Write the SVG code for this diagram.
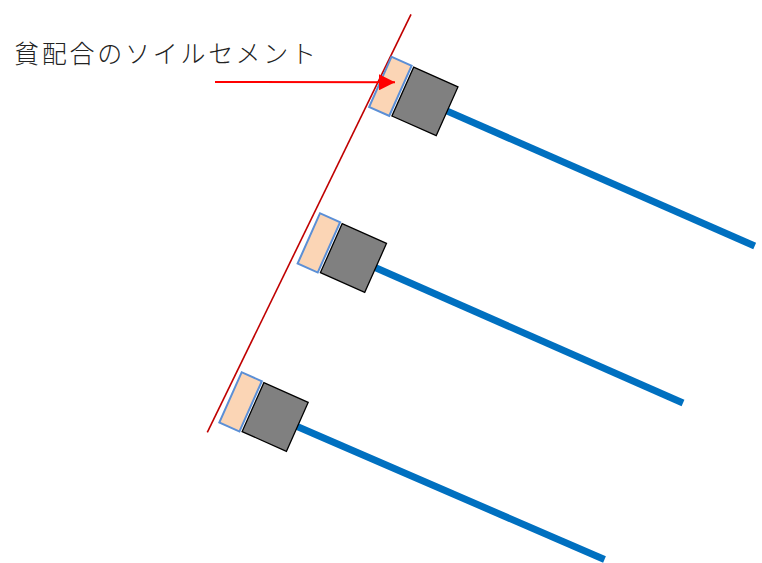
<svg xmlns="http://www.w3.org/2000/svg" width="762" height="563" viewBox="0 0 762 563">
<style>
.rod{stroke:#0070C0;stroke-width:7;fill:none;stroke-linecap:butt}
.pad{fill:#FBD5B5;stroke:#5B8FD6;stroke-width:2}
.head{fill:#808080;stroke:#000;stroke-width:1.3}
.wall{stroke:#C00000;stroke-width:1.6;fill:none}
.lbl{font-family:"Noto Sans CJK JP","Noto Sans CJK SC",sans-serif;font-size:25px;font-weight:300;fill:#222}
</style>
<defs>
<marker id="ah" markerUnits="userSpaceOnUse" markerWidth="18" markerHeight="16" refX="16" refY="8" orient="auto">
<polygon points="0,0 16,8 0,16" fill="#FF0000"/>
</marker>
</defs>
<rect width="762" height="563" fill="#fff"/>
<g id="connectors">
<line class="wall" x1="207.3" y1="432.3" x2="411" y2="14.3"/>
<line class="rod" x1="425" y1="101.4" x2="754.7" y2="246"/>
<line class="rod" x1="353.5" y1="258" x2="683" y2="403"/>
<line class="rod" x1="275.2" y1="417" x2="604.5" y2="559.5"/>
</g>
<g id="anchor-top" transform="translate(391.5,56.7) rotate(24)">
<rect class="pad" x="0" y="0" width="22" height="55"/>
<rect class="head" x="24.5" y="0.5" width="48.5" height="53.5"/>
</g>
<g id="anchor-middle" transform="translate(320,213.3) rotate(24)">
<rect class="pad" x="0" y="0" width="22" height="55"/>
<rect class="head" x="24.5" y="0.5" width="48.5" height="53.5"/>
</g>
<g id="anchor-bottom" transform="translate(241.7,372.3) rotate(24)">
<rect class="pad" x="0" y="0" width="22" height="55"/>
<rect class="head" x="24.5" y="0.5" width="48.5" height="53.5"/>
</g>
<g id="label">
<text class="lbl" x="14" y="63" textLength="302" lengthAdjust="spacing">貧配合のソイルセメント</text>
<line x1="215" y1="82" x2="395" y2="82.3" stroke="#FF0000" stroke-width="2" marker-end="url(#ah)"/>
</g>
</svg>
